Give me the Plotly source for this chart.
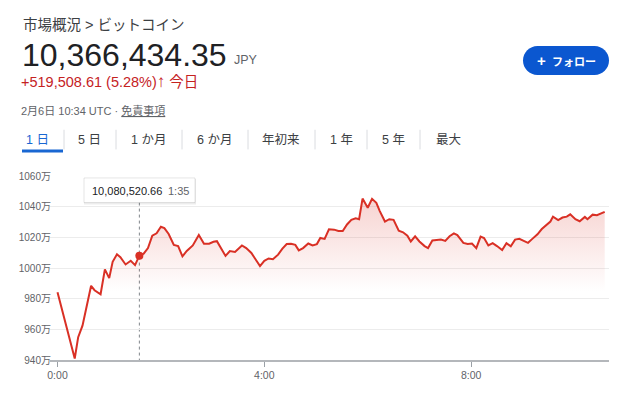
import plotly.graph_objects as go
import pandas as pd

# ---------------- data ----------------
times = ["00:00","00:20","00:24","00:29","00:39","00:43","00:50","00:55","01:00","01:04",
         "01:09","01:13","01:19","01:25","01:30","01:35","01:40","01:45","01:50","01:55",
         "02:00","02:04","02:09","02:15","02:20","02:25","02:30","02:37","02:44","02:50",
         "02:56","03:01","03:05","03:10","03:15","03:20","03:26","03:34","03:39","03:45",
         "03:50","03:55","04:00","04:05","04:10","04:16","04:21","04:26","04:31","04:36",
         "04:40","04:45","04:51","04:56","05:01","05:05","05:10","05:15","05:21","05:26",
         "05:31","05:36","05:41","05:46","05:50","05:54","06:00","06:05","06:10","06:14",
         "06:20","06:25","06:30","06:36","06:41","06:46","06:50","06:55","07:00","07:06",
         "07:10","07:15","07:20","07:25","07:30","07:35","07:40","07:44","07:51","07:56",
         "08:01","08:06","08:11","08:15","08:20","08:25","08:30","08:36","08:41","08:46",
         "08:51","08:56","09:01","09:06","09:11","09:17","09:22","09:28","09:32","09:35",
         "09:41","09:46","09:51","09:55","10:01","10:06","10:12","10:15","10:21","10:26",
         "10:30","10:35"]
values_man = [984.2,941.0,954.9,962.4,988.4,985.5,982.9,999.1,993.4,1004.0,
              1008.9,1007.0,1002.3,1004.7,1001.9,1008.05,1009.4,1013.0,1021.1,1022.6,
              1026.9,1026.0,1022.2,1015.1,1014.3,1007.6,1011.1,1014.7,1021.5,1015.8,
              1015.8,1017.1,1017.5,1013.0,1007.9,1011.1,1010.5,1014.7,1013.0,1009.8,
              1005.5,1001.2,1004.7,1006.2,1005.7,1008.7,1012.6,1015.6,1015.8,1015.1,
              1011.5,1013.0,1016.0,1014.7,1015.6,1019.6,1019.0,1025.2,1025.0,1024.1,
              1024.1,1028.4,1031.4,1032.4,1031.8,1045.3,1039.3,1045.1,1042.5,1037.1,
              1030.3,1031.8,1031.4,1024.3,1023.3,1021.1,1017.3,1020.7,1017.3,1014.3,
              1013.0,1017.9,1018.2,1018.5,1017.7,1020.7,1022.6,1021.5,1016.4,1015.6,
              1016.0,1013.0,1020.5,1019.6,1014.7,1016.2,1014.3,1011.7,1016.2,1014.1,
              1018.5,1019.0,1017.7,1016.4,1019.0,1022.0,1025.4,1028.1,1030.3,1033.5,
              1031.2,1032.9,1033.5,1035.0,1031.8,1030.5,1033.3,1031.8,1034.8,1034.4,
              1035.2,1036.64]
assert len(times) == len(values_man)

y_ticks = [940, 960, 980, 1000, 1020, 1040, 1060]
y_tick_labels = [f"{v}万" for v in y_ticks]
x_tick_times = ["00:00", "04:00", "08:00"]
x_tick_labels = ["0:00", "4:00", "8:00"]

hover_time = "01:35"
hover_label = "1:35"
hover_value_yen = 10080520.66

price_text = "10,366,434.35"
change_text = "+519,508.61 (5.28%)"
date = "2024-02-06"
tabs = ["1 日", "5 日", "1 か月", "6 か月", "年初来", "1 年", "5 年", "最大"]

# ---------------- styling ----------------
FONT = "Liberation Sans, Arial, Noto Sans CJK JP, sans-serif"
RED = "#d93025"
L, R, T, B = 50, 31, 176, 30
W, H = 640, 393
PW, PH = W - L - R, H - T - B

def px(x):
    return (x - L) / PW

def py(y):
    return (H - B - y) / PH

x = pd.to_datetime([f"{date} {t}" for t in times])
hx = pd.to_datetime(f"{date} {hover_time}")
hy = hover_value_yen / 10000

fig = go.Figure()
fig.add_trace(go.Scatter(
    x=x, y=values_man, mode="lines",
    line=dict(color=RED, width=2),
    fill="tozeroy",
    fillgradient=dict(type="vertical", start=985, stop=1047,
                      colorscale=[[0, "rgba(217,48,37,0)"], [1, "rgba(217,48,37,0.22)"]]),
    hoverinfo="skip", showlegend=False))
fig.add_trace(go.Scatter(
    x=[hx], y=[hy], mode="markers",
    marker=dict(color=RED, size=8), hoverinfo="skip", showlegend=False))

x0 = pd.to_datetime(f"{date} 00:00") - pd.Timedelta(minutes=8.7)
x1 = pd.to_datetime(f"{date} 10:40")

fig.update_layout(
    width=W, height=H, margin=dict(l=L, r=R, t=T, b=B, pad=0),
    paper_bgcolor="white", plot_bgcolor="white",
    font=dict(family=FONT, color="#5f6368"),
    xaxis=dict(range=[x0, x1], showgrid=False, zeroline=False,
               tickvals=pd.to_datetime([f"{date} {t}" for t in x_tick_times]),
               ticktext=x_tick_labels, ticks="outside", ticklen=5, tickcolor="#9aa0a6",
               showline=True, linecolor="#b4b7bb", linewidth=1.5,
               tickfont=dict(size=10.5, color="#5f6368")),
    yaxis=dict(range=[940, 1060], tickvals=y_ticks, ticktext=y_tick_labels,
               showgrid=True, gridcolor="#ececec", gridwidth=1, zeroline=False,
               ticks="", ticklabelstandoff=-2, tickfont=dict(size=10, color="#5f6368")),
)

ann = []
def text(xp, yp, s, size, color, anchor="left", **kw):
    ann.append(dict(x=px(xp), y=py(yp), xref="paper", yref="paper", text=s,
                    showarrow=False, xanchor=anchor, yanchor="middle",
                    font=dict(size=size, color=color, family=FONT), **kw))

text(21, 23, "市場概況 &gt; ビットコイン", 14.5, "#3c4043")
text(20, 53, price_text, 32, "#202124")
text(232, 58, "JPY", 12.5, "#5f6368")
text(19, 80, change_text + "<span style='font-size:17px'><b>↑</b></span> 今日", 14.5, "#c5221f")
text(19, 109, "2月6日 10:34 UTC · <u>免責事項</u>", 11, "#5f6368")

tab_centers = [37, 89, 148, 214, 281, 341, 393, 448]
for i, (tc, tl) in enumerate(zip(tab_centers, tabs)):
    text(tc, 139, tl, 12.5, "#1967d2" if i == 0 else "#3c4043", anchor="center")

text(566, 58.5, "<b><span style='font-size:15px'>+</span>  フォロー</b>", 11, "white", anchor="center")

tip_val = f"{hover_value_yen:,.2f}"
text(90, 191, tip_val, 11, "#202124")
text(166, 191, hover_label, 11, "#5f6368")

fig.update_layout(annotations=ann)

shapes = []
# tab separators
for sx in [64, 116, 182, 248, 315, 367, 420]:
    shapes.append(dict(type="line", xref="paper", yref="paper", x0=px(sx), x1=px(sx),
                       y0=py(129), y1=py(149), line=dict(color="#dadce0", width=1)))
# active tab underline
shapes.append(dict(type="rect", xref="paper", yref="paper", x0=px(22), x1=px(63),
                   y0=py(152), y1=py(149), fillcolor="#1967d2", line=dict(width=0)))
# follow button (pill)
r = 14.5
hw = 43 - r
k = 0.5523 * r
pill = (f"M {-hw},{-r} L {hw},{-r} C {hw+k},{-r} {hw+r},{-k} {hw+r},0 "
        f"C {hw+r},{k} {hw+k},{r} {hw},{r} L {-hw},{r} "
        f"C {-hw-k},{r} {-hw-r},{k} {-hw-r},0 C {-hw-r},{-k} {-hw-k},{-r} {-hw},{-r} Z")
shapes.append(dict(type="path", xref="paper", yref="paper", xsizemode="pixel",
                   ysizemode="pixel", xanchor=px(566), yanchor=py(58.5), path=pill,
                   fillcolor="#0b57d0", line=dict(width=0)))
# hover dotted line
shapes.append(dict(type="line", xref="x", yref="paper", x0=hx, x1=hx,
                   y0=py(203), y1=0, line=dict(color="#80868b", width=1, dash="dot"),
                   layer="below"))
# tooltip box with shadow
shapes.append(dict(type="rect", xref="paper", yref="paper", x0=px(84), x1=px(196),
                   y0=py(205), y1=py(179), fillcolor="rgba(0,0,0,0.07)", line=dict(width=0)))
shapes.append(dict(type="rect", xref="paper", yref="paper", x0=px(84), x1=px(195),
                   y0=py(203), y1=py(178), fillcolor="white",
                   line=dict(color="rgba(0,0,0,0.10)", width=1)))
fig.update_layout(shapes=shapes)

fig.write_html("out.html")
